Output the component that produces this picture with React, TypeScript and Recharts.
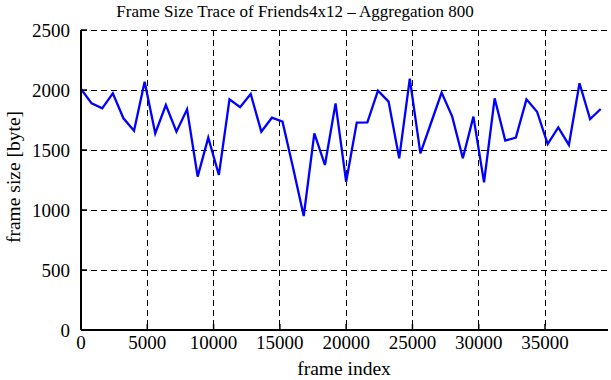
import React from 'react';
import { LineChart, Line, XAxis, YAxis, CartesianGrid } from 'recharts';

const frameIndex = [
  0, 800, 1600, 2400, 3200, 4000, 4800, 5600, 6400, 7200,
  8000, 8800, 9600, 10400, 11200, 12000, 12800, 13600, 14400, 15200,
  16000, 16800, 17600, 18400, 19200, 20000, 20800, 21600, 22400, 23200,
  24000, 24800, 25600, 26400, 27200, 28000, 28800, 29600, 30400, 31200,
  32000, 32800, 33600, 34400, 35200, 36000, 36800, 37600, 38400, 39200,
];
const frameSize = [
  2008, 1889, 1847, 1972, 1764, 1661, 2069, 1639, 1875, 1653,
  1839, 1278, 1603, 1292, 1922, 1856, 1967, 1653, 1769, 1736,
  1350, 950, 1639, 1375, 1889, 1235, 1728, 1731, 1994, 1903,
  1431, 2095, 1472, 1725, 1978, 1778, 1431, 1778, 1230, 1931,
  1578, 1603, 1922, 1819, 1550, 1689, 1542, 2056, 1758, 1842,
];
const xTicks = [0, 5000, 10000, 15000, 20000, 25000, 30000, 35000];
const yTicks = [0, 500, 1000, 1500, 2000, 2500];
const titleText = 'Frame Size Trace of Friends4x12 \u2013 Aggregation 800';
const xLabel = 'frame index';
const yLabel = 'frame size [byte]';

const data = frameIndex.map((f, i) => ({ frame: f, size: frameSize[i] }));

const FONT = '"Liberation Serif", "Times New Roman", serif';
const axisLineStyle = { stroke: '#000', strokeWidth: 2 };
const tickLineStyle = { stroke: '#000', strokeWidth: 1.5 };

const css = `
.chart-wrap svg text { font-family: ${FONT} !important; fill: #000 !important; }
.chart-wrap .recharts-cartesian-axis-tick text { font-size: 19px !important; }
.chart-wrap .recharts-cartesian-axis-tick-value { font-size: 19px !important; }
`;

export default function App() {
  return (
    <div className="chart-wrap" style={{ position: 'absolute', left: 0, top: 0, width: 611, height: 380, background: '#fff', fontFamily: FONT, fontSize: 19 }}>
      <style>{css}</style>
      <LineChart
        width={611}
        height={380}
        data={data}
        margin={{ top: 30, right: 3, bottom: 0, left: 0 }}
      >
        <CartesianGrid
          xAxisId="bottom"
          yAxisId="left"
          stroke="#000"
          strokeWidth={1}
          strokeDasharray="6 4"
          shapeRendering="crispEdges"
          verticalValues={xTicks}
          horizontalValues={yTicks}
        />
        <XAxis
          xAxisId="bottom"
          dataKey="frame"
          type="number"
          domain={[0, 39750]}
          ticks={xTicks}
          interval={0}
          height={50}
          tickSize={-6}
          tickMargin={12}
          tick={{ fill: '#000', fontSize: 19, fontFamily: FONT }}
          axisLine={axisLineStyle}
          tickLine={tickLineStyle}
        />
        <XAxis
          xAxisId="top"
          dataKey="frame"
          type="number"
          orientation="top"
          domain={[0, 39750]}
          ticks={xTicks}
          interval={0}
          height={0}
          tickSize={-6}
          tick={false}
          axisLine={axisLineStyle}
          tickLine={tickLineStyle}
        />
        <YAxis
          yAxisId="left"
          type="number"
          domain={[0, 2500]}
          ticks={yTicks}
          interval={0}
          width={81}
          tickSize={-6}
          tickMargin={17}
          tick={{ fill: '#000', fontSize: 19, fontFamily: FONT }}
          axisLine={axisLineStyle}
          tickLine={tickLineStyle}
        />
        <YAxis
          yAxisId="right"
          type="number"
          orientation="right"
          domain={[0, 2500]}
          ticks={yTicks}
          interval={0}
          width={0}
          tickSize={-6}
          tick={false}
          axisLine={axisLineStyle}
          tickLine={tickLineStyle}
        />
        <Line
          xAxisId="bottom"
          yAxisId="left"
          type="linear"
          dataKey="size"
          stroke="#0000ff"
          strokeWidth={2.3}
          dot={false}
          isAnimationActive={false}
        />
      </LineChart>
      <svg
        width={611}
        height={380}
        style={{ position: 'absolute', left: 0, top: 0, pointerEvents: 'none' }}
      >
        <text x={295} y={17} textAnchor="middle" style={{ fontFamily: FONT, fontSize: 17, fill: '#000' }}>
          {titleText}
        </text>
        <text x={344} y={375} textAnchor="middle" style={{ fontFamily: FONT, fontSize: 19.5, fill: '#000' }}>
          {xLabel}
        </text>
        <text
          x={0}
          y={0}
          transform="translate(20,177) rotate(-90)"
          textAnchor="middle"
          style={{ fontFamily: FONT, fontSize: 19.5, fill: '#000' }}
        >
          {yLabel}
        </text>
      </svg>
    </div>
  );
}
